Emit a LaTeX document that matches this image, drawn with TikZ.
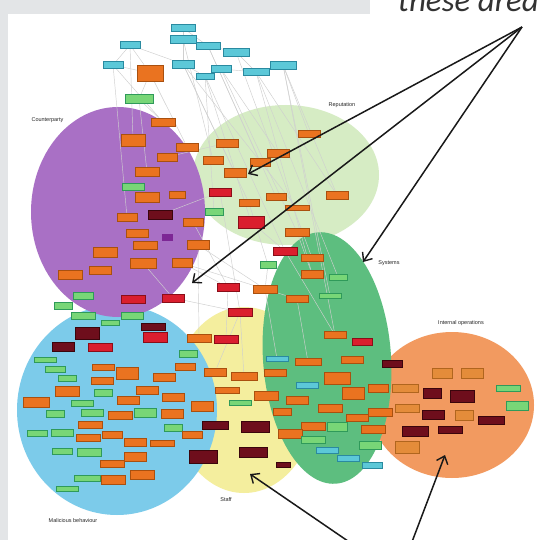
\documentclass[tikz,border=0pt]{standalone}
\usepackage{fontspec}
\setmainfont{Liberation Sans}
\newfontfamily\calibri{Carlito}
\usetikzlibrary{arrows.meta}
\definecolor{bgGray}{HTML}{E3E5E7}
\definecolor{ePurple}{HTML}{A970C5}
\definecolor{eLGreen}{HTML}{D6ECC4}
\definecolor{eDGreen}{HTML}{5DBE7F}
\definecolor{eYellow}{HTML}{F4EE9E}
\definecolor{eBlue}{HTML}{7CCBEA}
\definecolor{eOrange}{HTML}{F29A60}
\definecolor{cO}{HTML}{EA7320}
\definecolor{cOd}{HTML}{A9500F}
\definecolor{cR}{HTML}{DA1E2E}
\definecolor{cRd}{HTML}{8A0E18}
\definecolor{cD}{HTML}{6E0E1C}
\definecolor{cDd}{HTML}{3A050C}
\definecolor{cG}{HTML}{78D677}
\definecolor{cGd}{HTML}{2F9A5A}
\definecolor{cC}{HTML}{5CC8D8}
\definecolor{cCd}{HTML}{2A8AA0}
\definecolor{cL}{HTML}{E48C3A}
\definecolor{cLd}{HTML}{B0651E}
\definecolor{cP}{HTML}{7D2795}
\definecolor{edgeGray}{HTML}{CFCFCF}
\pgfdeclarelayer{bg}
\pgfdeclarelayer{edges}
\pgfsetlayers{bg,edges,main}
\tikzset{
  box/.style={rectangle, inner sep=0pt, line width=0.7pt},
  nO/.style={box, fill=cO, draw=cOd},
  nR/.style={box, fill=cR, draw=cRd},
  nD/.style={box, fill=cD, draw=cDd},
  nG/.style={box, fill=cG, draw=cGd},
  nC/.style={box, fill=cC, draw=cCd},
  nL/.style={box, fill=cL, draw=cLd},
  nP/.style={box, fill=cP, draw=cP},
  link/.style={draw=edgeGray, line width=0.45pt},
  area/.style={font=\fontsize{5.5}{6}\selectfont, text=black!85},
  pointer/.style={draw=black!90, line width=1.5pt, -{Straight Barb[length=7pt,width=12pt,line width=1.4pt]}}
}
\begin{document}
\begin{tikzpicture}[x=1pt,y=-1pt]
\useasboundingbox (0,0) rectangle (540,540);
\clip (0,0) rectangle (540,540);
\begin{pgfonlayer}{bg}
  \fill[bgGray] (0,0) rectangle (540,540);
  \fill[white] (8,14) rectangle (540,540);
  \fill[white] (370,0) rectangle (540,14);
  \fill[eLGreen] (286,175) ellipse [x radius=93pt, y radius=70pt];
  \fill[eOrange] (452,405) ellipse [x radius=82pt, y radius=73pt];
  \fill[eYellow] (244,400) ellipse [x radius=72pt, y radius=93pt];
  \fill[eBlue] (117,410) ellipse [x radius=100pt, y radius=105pt];
  \fill[ePurple] (118,212) ellipse [x radius=87pt, y radius=105pt];
  \fill[eDGreen, rotate around={4:(327,358)}] (327,358) ellipse [x radius=64pt, y radius=126pt];
\end{pgfonlayer}

% nodes: name/x/y/style/width/height
\foreach \nm/\x/\y/\s/\w/\h in {
 t1/183/28/nC/24/7, t2/183/39/nC/26/8, t3/130/45/nC/20/7, t4/208/46/nC/24/7,
 t5/236/52/nC/26/8, t6/113/65/nC/20/7, t7/183/64/nC/22/8, t8/221/69/nC/20/7,
 t9/205/76/nC/18/6, t10/256/72/nC/26/7, t11/283/65/nC/26/8, t12/150/73/nO/26/16,
 t13/139/99/nG/28/9,
 p1/163/122/nO/24/8, p2/133/140/nO/24/12, p3/187/147/nO/22/8, p4/167/157/nO/20/8,
 p5/147/172/nO/24/9, p6/133/187/nG/22/7, p7/147/197/nO/24/10, p8/177/195/nO/16/7,
 p9/160/215/nD/24/9, p10/127/217/nO/20/8, p11/193/222/nO/20/8, p12/137/233/nO/22/8,
 p13/167/237/nP/10/6, p14/145/245/nO/24/8, p15/105/252/nO/24/10, p16/198/245/nO/22/9,
 p17/143/263/nO/26/10, p18/182/263/nO/20/9, p19/100/270/nO/22/8, p20/70/275/nO/24/9,
 r1/227/143/nO/22/8, r2/213/160/nO/20/8, r3/235/173/nO/22/9, r4/260/162/nO/20/8,
 r5/309/134/nO/22/7, r6/278/153/nO/22/8, r7/220/192/nR/22/8, r8/249/203/nO/20/7,
 r9/276/197/nO/20/7, r10/337/195/nO/22/8, r11/297/208/nO/24/5, r12/214/212/nG/18/7,
 r13/251/222/nR/26/12, r14/297/232/nO/24/8,
 m1/285/251/nR/24/8, m2/312/258/nO/22/7, m3/268/265/nG/16/7, m5/312/274/nO/22/8,
 m6/338/277/nG/18/6, m7/228/287/nR/22/8, m8/265/289/nO/24/8, m9/297/299/nO/22/7,
 m10/330/296/nG/22/5, m11/240/312/nR/24/8,
 b1/83/296/nG/20/7, b2/133/299/nR/24/8, b3/173/298/nR/22/8, b4/63/306/nG/18/7,
 b5/83/316/nG/24/7, b6/132/316/nG/22/7, b7/110/323/nG/18/5, b8/153/327/nD/24/7,
 b9/87/333/nD/24/12, b10/155/337/nR/24/10, b11/63/347/nD/22/9, b12/100/347/nR/24/8,
 b13/45/360/nG/22/5, b14/188/354/nG/18/7, b15/55/369/nG/20/6, b16/103/367/nO/22/6,
 b17/127/373/nO/22/12, b18/164/377/nO/22/8, b19/185/367/nO/20/7, b20/67/378/nG/18/6,
 b21/102/381/nO/22/7, b22/67/391/nO/24/10, b23/36/402/nO/26/10, b24/103/393/nG/18/7,
 b25/147/390/nO/22/8, b26/173/397/nO/22/8, b27/128/400/nO/22/8, b28/82/403/nG/22/6,
 b29/202/406/nO/22/10, b30/55/414/nG/18/7, b31/92/413/nG/22/7, b32/120/415/nO/24/8,
 b33/145/413/nG/22/9, b34/172/414/nO/22/9, b35/90/425/nO/24/7, b36/37/433/nG/20/6,
 b37/62/433/nG/22/7, b38/88/438/nO/24/7, b39/112/435/nO/20/7, b40/135/442/nO/22/8,
 b41/162/443/nO/24/6, b42/173/428/nG/18/7, b43/192/435/nO/20/7, b44/62/451/nG/20/6,
 b45/89/452/nG/24/8, b46/135/457/nO/22/9, b47/112/464/nO/24/7, b48/142/475/nO/24/9,
 b49/87/478/nG/26/6, b50/113/480/nO/24/9, b51/67/489/nG/22/5,
 y1/199/338/nO/24/8, y2/226/339/nR/24/8, y3/215/372/nO/22/8, y4/244/376/nO/26/8,
 y5/227/390/nO/24/6, y6/240/403/nG/22/5, y7/215/425/nD/26/8, y8/255/427/nD/28/11,
 y9/203/457/nD/28/13, y10/253/452/nD/28/10, y11/283/465/nD/14/5, y12/266/396/nO/24/9,
 s1/335/335/nO/22/7, s2/362/342/nR/20/7, s3/277/359/nC/22/5, s4/308/362/nO/26/7,
 s5/352/360/nO/22/7, s6/392/364/nD/20/7, s7/275/373/nO/22/7, s8/337/378/nO/26/12,
 s9/307/385/nC/22/6, s10/353/393/nO/22/12, s11/378/388/nO/20/8, s12/297/400/nO/22/8,
 s13/330/408/nO/24/8, s14/282/412/nO/18/7, s15/357/418/nO/22/7, s16/380/412/nO/24/8,
 s17/313/426/nO/24/8, s18/337/427/nG/20/9, s19/290/434/nO/24/9, s20/313/440/nG/24/7,
 s21/373/429/nO/24/8, s22/370/445/nG/22/8, s23/327/450/nC/22/6, s24/348/458/nC/22/6,
 s25/372/465/nC/20/6,
 i1/405/388/nL/26/8, i2/407/408/nL/24/8, i3/407/447/nL/24/12, i4/442/373/nL/20/10,
 i5/472/373/nL/22/10, i6/432/393/nD/18/10, i7/462/396/nD/24/12, i8/508/388/nG/24/6,
 i9/517/406/nG/22/9, i10/433/415/nD/22/9, i11/464/415/nL/18/10, i12/491/420/nD/26/8,
 i13/415/431/nD/26/10, i14/450/430/nD/24/7}
  \node[style=\s, minimum width=\w pt, minimum height=\h pt] (\nm) at (\x,\y) {};

\begin{pgfonlayer}{edges}
\foreach \a/\b in {t1/t2, t2/t4, t4/t5, t2/t7, t3/t6, t3/t12, t6/t12, t7/t9, t8/t10,
  t5/t10, t12/t13, t13/p1, t13/p5, t3/p2, t12/p3, t2/r2, t7/r3, t7/r11, t8/r14, t9/m1,
  t9/r13, t10/r10, t10/m5, t11/r10, t11/s1, t5/m2, t4/r4, t8/r6, t11/r5, t6/p10,
  p4/r1, p9/r7, p11/m7, p16/m8, p18/m9, r7/m11, b3/m11, m7/y2, m8/s3, r13/m1,
  m11/y4, p18/m7, m1/s1, m3/m8, r14/m5, p16/y1, m9/s4, r8/m3, p17/b3, m11/y3,
  t7/r8, t4/r9, t9/r12, t10/m6, t11/m10, t1/t4, t3/t7, t6/p1}
  \draw[link] (\a) -- (\b);
\end{pgfonlayer}

% area labels
\node[area, anchor=west] (lCounter) at (28,120) {Counterparty};
\node[area] (lRep) at (342,105) {Reputation};
\node[area] (lSys) at (389,263) {Systems};
\node[area] (lInt) at (461,323) {Internal operations};
\node[area] (lStaff) at (226,500) {Staff};
\node[area] (lMal) at (73,521) {Malicious behaviour};

% caption fragment at the top
\node[anchor=base east, inner sep=0pt, font=\calibri\itshape\fontsize{33}{36}\selectfont, text=black!80] (cap) at (539,12) {these area};

% pointers
\coordinate (apex) at (522,27);
\coordinate (tgRep) at (248,174);
\coordinate (tgCounter) at (192,283);
\coordinate (tgSys) at (363,262);
\coordinate (base) at (399,576);
\coordinate (tgStaff) at (250,474);
\coordinate (tgInt) at (445,455);
\draw[pointer] (apex) -- (tgRep);
\draw[pointer] (apex) -- (tgCounter);
\draw[pointer] (apex) -- (tgSys);
\draw[pointer] (base) -- (tgStaff);
\draw[pointer] (base) -- (tgInt);
\end{tikzpicture}
\end{document}
